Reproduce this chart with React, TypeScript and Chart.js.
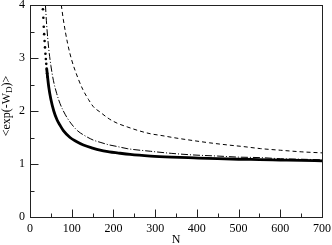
import React, { useEffect, useRef } from "react";
import { Chart, registerables } from "chart.js";
Chart.register(...registerables);

const xTickValues = [0, 100, 200, 300, 400, 500, 600, 700];
const yTickValues = [0, 1, 2, 3, 4];
const xMinorTicks = [50, 150, 250, 350, 450, 550, 650];
const yMinorTicks = [0.5, 1.5, 2.5, 3.5];

const solidDotsN = [31, 32, 33, 34, 35, 36, 37, 38, 39, 40, 41, 42];
const solidDotsV = [3.92, 3.76, 3.59, 3.45, 3.32, 3.2, 3.08, 2.98, 2.89, 2.8, 2.71, 2.64];

const solidN = [40, 45, 50, 57, 65, 72, 80, 96, 110, 128, 150, 168, 190, 209, 240, 289, 340, 393, 450, 500, 550, 600, 650, 700];
const solidV = [2.8, 2.45, 2.22, 2.0, 1.83, 1.73, 1.63, 1.5, 1.43, 1.36, 1.3, 1.26, 1.23, 1.21, 1.18, 1.15, 1.13, 1.115, 1.1, 1.09, 1.083, 1.075, 1.067, 1.06];

const dashDotN = [37, 40, 45, 50, 56, 64, 72, 80, 90, 104, 115, 128, 152, 168, 190, 209, 233, 289, 340, 393, 450, 500, 553, 600, 650, 700];
const dashDotV = [4.0, 3.62, 3.17, 2.86, 2.58, 2.33, 2.14, 2.0, 1.86, 1.71, 1.62, 1.55, 1.45, 1.41, 1.36, 1.33, 1.29, 1.24, 1.2, 1.17, 1.15, 1.13, 1.12, 1.1, 1.09, 1.08];

const dashedN = [75, 80, 90, 100, 115, 127, 140, 152, 168, 190, 209, 233, 260, 289, 313, 350, 393, 430, 473, 510, 553, 600, 650, 700];
const dashedV = [4.0, 3.72, 3.28, 2.96, 2.62, 2.4, 2.22, 2.08, 1.98, 1.85, 1.77, 1.7, 1.63, 1.57, 1.54, 1.49, 1.44, 1.4, 1.36, 1.33, 1.29, 1.26, 1.23, 1.21];

const FONT = "'Liberation Serif', 'Times New Roman', serif";

const pts = (xs: number[], ys: number[]) => xs.map((x, i) => ({ x, y: ys[i] }));

const framePlugin = {
  id: "frame",
  afterDraw(chart: any) {
    const ctx = chart.ctx;
    const { left, right, top, bottom } = chart.chartArea;
    const xs = chart.scales.x;
    const ys = chart.scales.y;
    ctx.save();
    ctx.strokeStyle = "#222";
    ctx.lineWidth = 1;
    ctx.strokeRect(Math.round(left) + 0.5, Math.round(top) + 0.5, Math.round(right - left), Math.round(bottom - top));
    ctx.beginPath();
    const b = Math.round(bottom) + 0.5;
    const l = Math.round(left) + 0.5;
    xTickValues.forEach((v) => {
      const px = Math.round(xs.getPixelForValue(v)) + 0.5;
      ctx.moveTo(px, b);
      ctx.lineTo(px, b - 8);
    });
    xMinorTicks.forEach((v) => {
      const px = Math.round(xs.getPixelForValue(v)) + 0.5;
      ctx.moveTo(px, b);
      ctx.lineTo(px, b - 4);
    });
    yTickValues.forEach((v) => {
      const py = Math.round(ys.getPixelForValue(v)) + 0.5;
      ctx.moveTo(l, py);
      ctx.lineTo(l + 8, py);
    });
    yMinorTicks.forEach((v) => {
      const py = Math.round(ys.getPixelForValue(v)) + 0.5;
      ctx.moveTo(l, py);
      ctx.lineTo(l + 4, py);
    });
    ctx.stroke();

    ctx.fillStyle = "#000";
    ctx.font = `12px ${FONT}`;
    ctx.textAlign = "center";
    ctx.textBaseline = "middle";
    ctx.fillText("N", (left + right) / 2, 240);

    ctx.translate(7, 106);
    ctx.rotate(-Math.PI / 2);
    const p1 = "<exp(-W";
    const p2 = "D";
    const p3 = ")>";
    ctx.font = `12px ${FONT}`;
    const w1 = ctx.measureText(p1).width;
    const w3 = ctx.measureText(p3).width;
    ctx.font = `9px ${FONT}`;
    const w2 = ctx.measureText(p2).width;
    const total = w1 + w2 + w3;
    let x0 = -total / 2;
    ctx.textAlign = "left";
    ctx.font = `12px ${FONT}`;
    ctx.fillText(p1, x0, 0);
    x0 += w1;
    ctx.font = `9px ${FONT}`;
    ctx.fillText(p2, x0, 3);
    x0 += w2;
    ctx.font = `12px ${FONT}`;
    ctx.fillText(p3, x0, 0);
    ctx.restore();
  },
};

export default function App() {
  const ref = useRef<HTMLCanvasElement | null>(null);
  useEffect(() => {
    if (!ref.current) return;
    const chart = new Chart(ref.current, {
      type: "scatter",
      data: {
        datasets: [
          {
            data: pts(dashedN, dashedV),
            showLine: true,
            borderColor: "#000",
            borderWidth: 1,
            borderDash: [4, 3],
            pointRadius: 0,
            cubicInterpolationMode: "monotone",
          },
          {
            data: pts(dashDotN, dashDotV),
            showLine: true,
            borderColor: "#000",
            borderWidth: 1,
            borderDash: [7, 2, 1, 2],
            pointRadius: 0,
            cubicInterpolationMode: "monotone",
          },
          {
            data: pts(solidN, solidV),
            showLine: true,
            borderColor: "#000",
            borderWidth: 2.8,
            pointRadius: 0,
            cubicInterpolationMode: "monotone",
          },
          {
            data: pts(solidDotsN, solidDotsV),
            showLine: false,
            backgroundColor: "#000",
            borderWidth: 0,
            pointRadius: 1.3,
          },
        ],
      },
      options: {
        animation: false,
        responsive: true,
        maintainAspectRatio: false,
        layout: { padding: { top: 5, right: 10, left: 0, bottom: 0 } },
        plugins: { legend: { display: false }, tooltip: { enabled: false } },
        scales: {
          x: {
            type: "linear",
            min: 0,
            max: 700,
            afterBuildTicks: (s: any) => {
              s.ticks = xTickValues.map((v) => ({ value: v }));
            },
            afterFit: (s: any) => {
              s.height = 28;
              s.paddingLeft = 0;
              s.paddingRight = 0;
            },
            grid: { display: false, drawTicks: false },
            border: { display: false },
            ticks: { color: "#000", font: { family: FONT, size: 12 }, padding: 5, maxRotation: 0 },
          },
          y: {
            type: "linear",
            min: 0,
            max: 4,
            afterBuildTicks: (s: any) => {
              s.ticks = yTickValues.map((v) => ({ value: v }));
            },
            afterFit: (s: any) => {
              s.width = 30;
              s.paddingTop = 0;
              s.paddingBottom = 0;
            },
            grid: { display: false, drawTicks: false },
            border: { display: false },
            ticks: { color: "#000", font: { family: FONT, size: 12 }, padding: 5 },
          },
        },
      },
      plugins: [framePlugin],
    });
    return () => chart.destroy();
  }, []);
  return (
    <div style={{ position: "absolute", left: 0, top: 0, width: 332, height: 245 }}>
      <canvas ref={ref} />
    </div>
  );
}
